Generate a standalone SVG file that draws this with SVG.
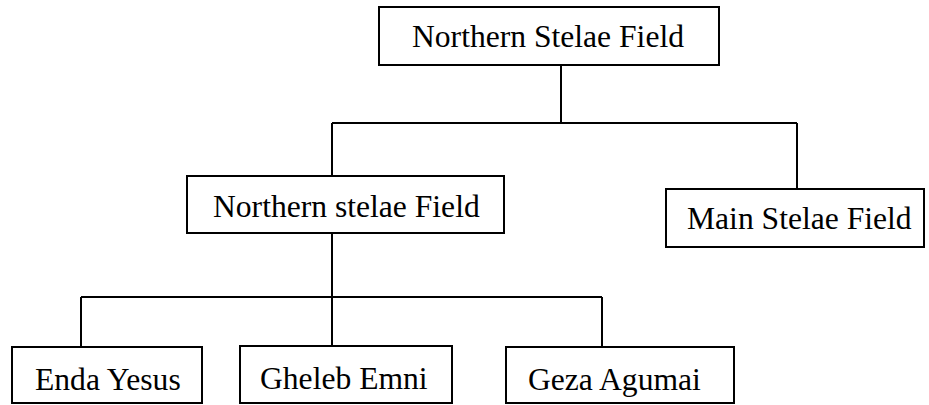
<svg xmlns="http://www.w3.org/2000/svg" width="929" height="405" viewBox="0 0 929 405">
<style>
.box{fill:#fff;stroke:#000;stroke-width:2}
.lbl{font-family:"Liberation Serif","Times New Roman",serif;font-size:31.6px;fill:#000}
.con{fill:none;stroke:#000;stroke-width:2}
</style>
<rect width="929" height="405" fill="#fff"/>
<g id="connectors">
<path class="con" d="M561 65V123M332 123H797M332 123V176M797 123V189"/>
<path class="con" d="M332 233V346M81 297H602M81 297V347M602 297V347"/>
</g>
<g id="n-top"><rect class="box" x="379" y="7" width="340" height="58"/><text class="lbl" x="412" y="47">Northern Stelae Field</text></g>
<g id="n-north"><rect class="box" x="187" y="176" width="317" height="57"/><text class="lbl" x="213" y="217">Northern stelae Field</text></g>
<g id="n-main"><rect class="box" x="666" y="189" width="258" height="58"/><text class="lbl" x="687" y="229">Main Stelae Field</text></g>
<g id="n-enda"><rect class="box" x="12" y="347" width="190" height="56"/><text class="lbl" x="35" y="390">Enda Yesus</text></g>
<g id="n-gheleb"><rect class="box" x="240" y="346" width="212" height="57"/><text class="lbl" x="260" y="389">Gheleb Emni</text></g>
<g id="n-geza"><rect class="box" x="506" y="347" width="228" height="56"/><text class="lbl" x="528" y="390">Geza Agumai</text></g>
</svg>
